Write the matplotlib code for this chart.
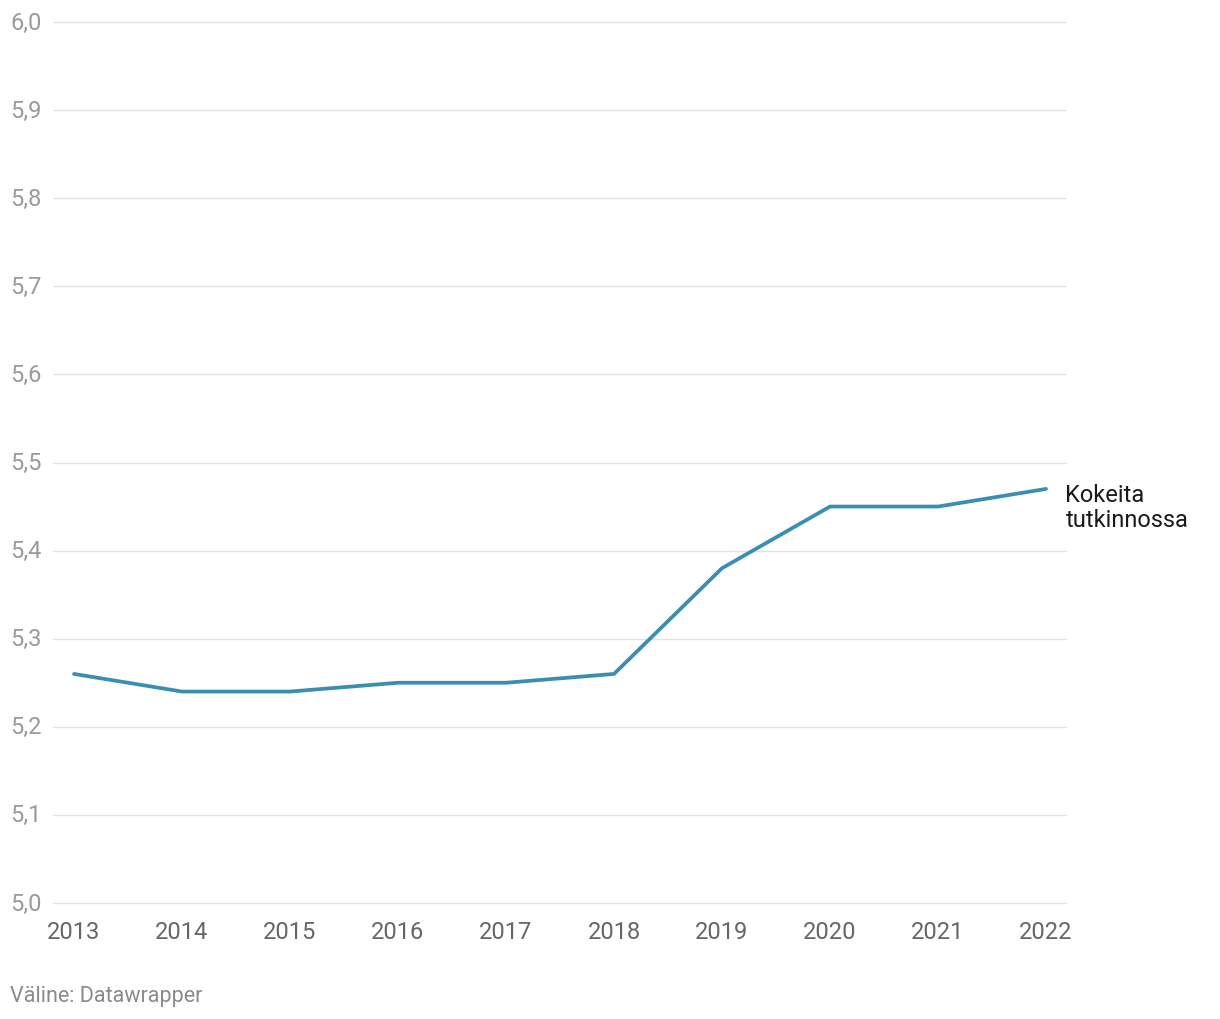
import matplotlib
matplotlib.use("Agg")
import matplotlib.pyplot as plt

years = [2013, 2014, 2015, 2016, 2017, 2018, 2019, 2020, 2021, 2022]
values = [5.26, 5.24, 5.24, 5.25, 5.25, 5.26, 5.38, 5.45, 5.45, 5.47]
series_label = "Kokeita\ntutkinnossa"
yticks = [5.0, 5.1, 5.2, 5.3, 5.4, 5.5, 5.6, 5.7, 5.8, 5.9, 6.0]
source = "Väline: Datawrapper"

plt.rcParams['font.family'] = ['Roboto', 'DejaVu Sans']

fig = plt.figure(figsize=(12.2, 10.2), dpi=100)
ax = fig.add_axes([53/1220, 1-904/1020, (1066-53)/1220, (904-23)/1020])

ax.set_xlim(2013 - 21/108, 2022 + 20/108)
ax.set_ylim(5.0, 6.0)

for t in yticks:
    ax.axhline(t, color='#e3e3e3', lw=1.0, zorder=1, clip_on=False)

ax.plot(years, values, color='#3a8fb0', lw=2.7, zorder=3, solid_capstyle='round')

for s in ax.spines.values():
    s.set_visible(False)
ax.set_yticks(yticks)
ax.set_yticklabels([f"{t:.1f}".replace('.', ',') for t in yticks], color='#9a9a9a', fontsize=17)
ax.set_xticks(years)
ax.set_xticklabels([str(y) for y in years], color='#666666', fontsize=17)
ax.tick_params(axis='both', length=0)
ax.tick_params(axis='y', pad=8)
ax.tick_params(axis='x', pad=12)
for lbl in ax.get_yticklabels():
    lbl.set_verticalalignment('center')

ax.annotate(series_label, xy=(years[-1], values[-1]), xytext=(14, -13), textcoords='offset points',
            ha='left', va='center', fontsize=17, color='#1a1a1a', linespacing=1.15,
            annotation_clip=False)

fig.text(10/1220, 1-997/1020, source, ha='left', va='center', fontsize=15.5, color='#8a8a8a')

fig.savefig("out.png", dpi=100, facecolor='white')
